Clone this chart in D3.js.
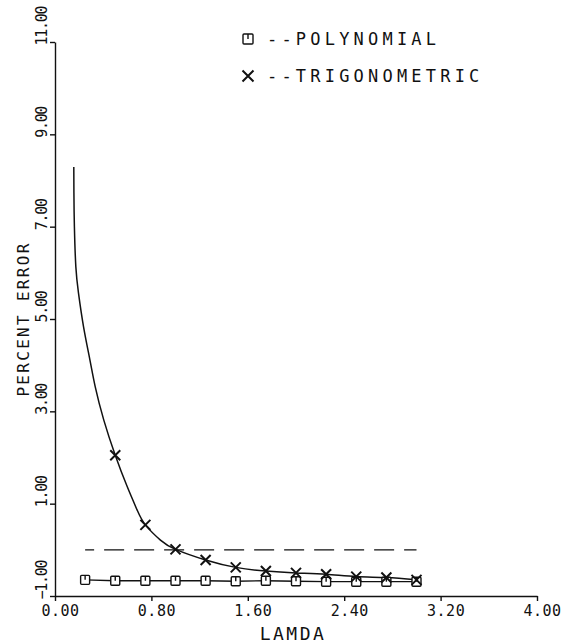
<!DOCTYPE html>
<html>
<head>
<meta charset="utf-8">
<script src="https://cdn.jsdelivr.net/npm/d3@7"></script>
<style>
  body { margin: 0; background: #fff; }
  text { font-family: "DejaVu Sans Mono", monospace; fill: #111; }
</style>
</head>
<body>
<div id="chart"></div>
<script>
// tick values
var lamdaTicks = [0, 0.8, 1.6, 2.4, 3.2, 4.0];
var errorTicks = [-1, 1, 3, 5, 7, 9, 11];

// polynomial series (squares)
var polyLamda = [0.25, 0.5, 0.75, 1.0, 1.25, 1.5, 1.75, 2.0, 2.25, 2.5, 2.75, 3.0];
var polyError = [-0.65, -0.67, -0.67, -0.67, -0.67, -0.68, -0.67, -0.68, -0.69, -0.69, -0.69, -0.69];

// trigonometric series (x markers)
var trigLamda = [0.5, 0.75, 1.0, 1.25, 1.5, 1.75, 2.0, 2.25, 2.5, 2.75, 3.0];
var trigError = [2.05, 0.54, 0.01, -0.22, -0.38, -0.46, -0.50, -0.53, -0.58, -0.60, -0.65];

// fitted trigonometric curve
var curveLamda = [0.156, 0.157, 0.161, 0.173, 0.195, 0.237, 0.290, 0.334, 0.405, 0.5, 0.599, 0.682, 0.75, 0.875, 1.0, 1.25, 1.5, 1.75, 2.0, 2.25, 2.5, 2.75, 3.0];
var curveError = [8.29, 7.73, 7.00, 6.13, 5.56, 4.83, 4.11, 3.53, 2.81, 2.05, 1.37, 0.86, 0.54, 0.21, 0.01, -0.22, -0.38, -0.46, -0.50, -0.53, -0.58, -0.60, -0.65];

// dashed reference line
var refLamda = [0.25, 3.0];
var refError = [0, 0];

var legendLabels = ["--POLYNOMIAL", "--TRIGONOMETRIC"];

var width = 563;
var height = 644;

var svg = d3.select("#chart").append("svg")
  .attr("width", width)
  .attr("height", height);

var x = d3.scaleLinear().domain([0, 4]).range([55, 537]);
var y = d3.scaleLinear().domain([-1, 11]).range([596, 42]);

// x axis
var xAxis = svg.append("g")
  .attr("transform", "translate(0," + y(-1) + ")")
  .call(d3.axisBottom(x).tickValues(lamdaTicks).tickSize(5).tickSizeOuter(0)
    .tickFormat(d3.format(".2f")));
xAxis.select(".domain").attr("stroke", "#111").attr("stroke-width", 1.4);
xAxis.selectAll(".tick line").attr("stroke", "#111").attr("stroke-width", 1.4);
xAxis.selectAll(".tick text")
  .attr("y", 20)
  .attr("dy", 0)
  .attr("dx", 5)
  .style("font-size", "15px")
  .style("letter-spacing", "0.5px");

// y axis
var yAxis = svg.append("g")
  .attr("transform", "translate(" + x(0) + ",0)")
  .call(d3.axisLeft(y).tickValues(errorTicks).tickSize(5).tickSizeOuter(0)
    .tickFormat(d3.format(".2f")));
yAxis.select(".domain").attr("stroke", "#111").attr("stroke-width", 1.4);
yAxis.selectAll(".tick line").attr("stroke", "#111").attr("stroke-width", 1.4);
yAxis.selectAll(".tick text")
  .attr("transform", "rotate(-90)")
  .attr("x", -3)
  .attr("y", -8)
  .attr("dy", 0)
  .attr("text-anchor", "start")
  .style("font-size", "15px")
  .style("letter-spacing", "-1.3px");

// axis titles
svg.append("text")
  .attr("x", 293)
  .attr("y", 640)
  .attr("text-anchor", "middle")
  .style("font-size", "18px")
  .style("letter-spacing", "2.5px")
  .text("LAMDA");

svg.append("text")
  .attr("transform", "translate(29," + y(5) + ") rotate(-90)")
  .attr("text-anchor", "middle")
  .style("font-size", "16px")
  .style("letter-spacing", "2.3px")
  .text("PERCENT ERROR");

// dashed reference line
svg.append("path")
  .datum(d3.range(refLamda.length))
  .attr("d", d3.line().x(function (i) { return x(refLamda[i]); }).y(function (i) { return y(refError[i]); }))
  .attr("fill", "none")
  .attr("stroke", "#111")
  .attr("stroke-width", 1.4)
  .attr("stroke-dasharray", "20,10")
  .attr("stroke-dashoffset", 11);

// trig curve
svg.append("path")
  .datum(d3.range(curveLamda.length))
  .attr("d", d3.line()
    .x(function (i) { return x(curveLamda[i]); })
    .y(function (i) { return y(curveError[i]); })
    .curve(d3.curveNatural))
  .attr("fill", "none")
  .attr("stroke", "#111")
  .attr("stroke-width", 1.5);

// polynomial line
svg.append("path")
  .datum(d3.range(polyLamda.length))
  .attr("d", d3.line().x(function (i) { return x(polyLamda[i]); }).y(function (i) { return y(polyError[i]); }))
  .attr("fill", "none")
  .attr("stroke", "#111")
  .attr("stroke-width", 1.3);

function squareMarker(g, s) {
  g.append("rect")
    .attr("x", -s / 2).attr("y", -s / 2)
    .attr("width", s).attr("height", s)
    .attr("rx", 1)
    .attr("fill", "#fff")
    .attr("stroke", "#111")
    .attr("stroke-width", 1.4);
  g.append("line")
    .attr("x1", 0).attr("x2", 0)
    .attr("y1", -s / 2).attr("y2", 0)
    .attr("stroke", "#111")
    .attr("stroke-width", 1.4);
}

function crossMarker(g, s) {
  g.append("path")
    .attr("d", "M" + (-s / 2) + "," + (-s / 2) + "L" + (s / 2) + "," + (s / 2) +
      "M" + (-s / 2) + "," + (s / 2) + "L" + (s / 2) + "," + (-s / 2))
    .attr("fill", "none")
    .attr("stroke", "#111")
    .attr("stroke-width", 2);
}

svg.selectAll(".poly")
  .data(d3.range(polyLamda.length))
  .enter().append("g")
  .attr("class", "poly")
  .attr("transform", function (i) { return "translate(" + x(polyLamda[i]) + "," + y(polyError[i]) + ")"; })
  .each(function () { squareMarker(d3.select(this), 9); });

svg.selectAll(".trig")
  .data(d3.range(trigLamda.length))
  .enter().append("g")
  .attr("class", "trig")
  .attr("transform", function (i) { return "translate(" + x(trigLamda[i]) + "," + y(trigError[i]) + ")"; })
  .each(function () { crossMarker(d3.select(this), 10); });

// legend
var legend = svg.selectAll(".legend")
  .data(legendLabels)
  .enter().append("g")
  .attr("class", "legend")
  .attr("transform", function (d, i) { return "translate(248," + (39 + i * 37) + ")"; });

legend.each(function (d, i) {
  if (i == 0) squareMarker(d3.select(this), 10);
  else crossMarker(d3.select(this), 11);
});

legend.append("text")
  .attr("x", 19)
  .attr("y", 6)
  .style("font-size", "17px")
  .style("letter-spacing", "4.2px")
  .text(function (d) { return d; });
</script>
</body>
</html>
